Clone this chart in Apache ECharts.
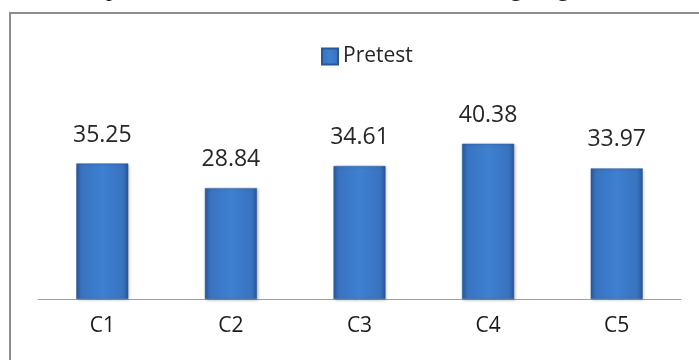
<!DOCTYPE html>
<html>
<head>
<meta charset="utf-8">
<script src="https://cdn.jsdelivr.net/npm/echarts@6/dist/echarts.min.js"></script>
<style>
  html, body { margin: 0; padding: 0; background: #ffffff; }
  #chart { width: 699px; height: 360px; }
</style>
</head>
<body>
<div id="chart"></div>
<script>
// Pretest scores for the five classes
const categories = ['C1', 'C2', 'C3', 'C4', 'C5'];
const pretest = [35.25, 28.84, 34.61, 40.38, 33.97];
const seriesName = 'Pretest';

const barFill = new echarts.graphic.LinearGradient(0, 0, 1, 0, [
  { offset: 0, color: '#2a5a9c' },
  { offset: 0.1, color: '#3873c0' },
  { offset: 0.5, color: '#3f80d1' },
  { offset: 0.9, color: '#3873c0' },
  { offset: 1, color: '#28569a' }
]);

const chart = echarts.init(document.getElementById('chart'), null, { renderer: 'canvas' });

chart.setOption({
  animation: false,
  backgroundColor: '#ffffff',
  grid: { left: 38, right: 18, top: 126, bottom: 61 },
  legend: {
    data: [{ name: seriesName, icon: 'rect' }],
    left: 316,
    top: 41,
    itemWidth: 16,
    itemHeight: 16,
    itemGap: 6,
    textStyle: { fontFamily: 'Open Sans', fontSize: 21, color: '#262626' }
  },
  xAxis: {
    type: 'category',
    data: categories,
    axisLine: { lineStyle: { color: '#a0a0a0', width: 1 } },
    axisTick: { show: false },
    axisLabel: { margin: 17, fontFamily: 'Open Sans', fontSize: 21, color: '#1a1a1a' }
  },
  yAxis: {
    type: 'value',
    min: 0,
    max: 45,
    show: false
  },
  series: [{
    name: seriesName,
    type: 'bar',
    data: pretest,
    barWidth: 52,
    itemStyle: {
      color: barFill,
      borderColor: '#2b5795',
      borderWidth: 0.5,
      shadowColor: 'rgba(0,0,0,0.25)',
      shadowBlur: 3,
      shadowOffsetX: 1,
      shadowOffsetY: 1
    },
    label: {
      show: true,
      position: 'top',
      distance: 17,
      fontFamily: 'Open Sans',
      fontSize: 23,
      color: '#262626',
      formatter: p => p.value.toFixed(2)
    }
  }],
  graphic: [
    {
      type: 'rect',
      shape: { x: 10, y: 13, width: 720, height: 380 },
      style: { fill: 'none', stroke: '#8e8e8e', lineWidth: 2 },
      silent: true
    },
    {
      type: 'text',
      left: 106,
      top: -22,
      style: { text: 'p', font: '24px "Liberation Serif"', fill: '#111' }
    },
    {
      type: 'text',
      left: 510,
      top: -22,
      style: { text: 'g', font: '24px "Liberation Serif"', fill: '#111' }
    },
    {
      type: 'text',
      left: 557,
      top: -22,
      style: { text: 'g', font: '24px "Liberation Serif"', fill: '#111' }
    }
  ]
});
</script>
</body>
</html>
